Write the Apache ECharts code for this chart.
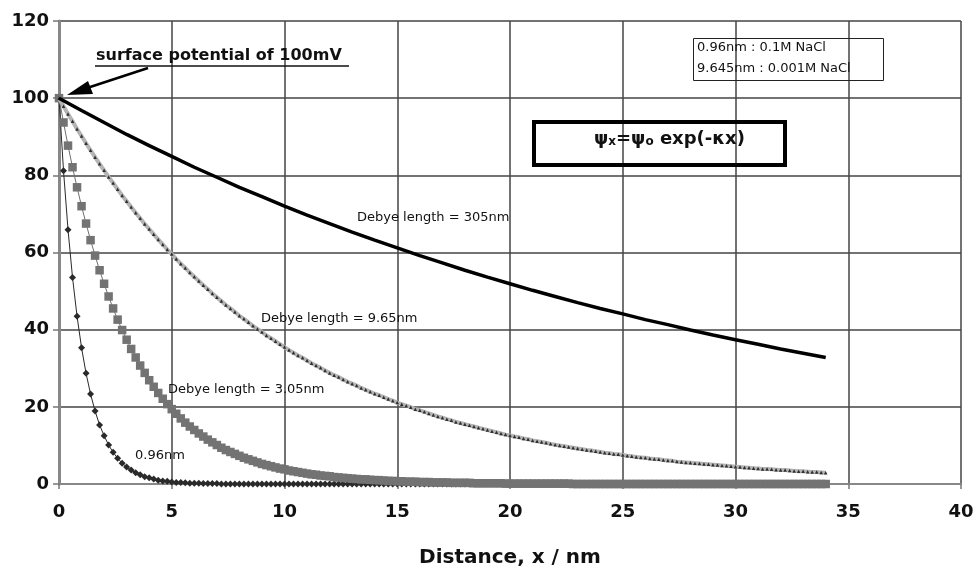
<!DOCTYPE html>
<html>
<head>
<meta charset="utf-8">
<title>Debye length potential decay</title>
<script src="https://cdn.jsdelivr.net/npm/echarts@6/dist/echarts.min.js"></script>
<style>
  html, body { margin: 0; padding: 0; background: #fff; }
  #chart { width: 979px; height: 573px; }
</style>
</head>
<body>
<div id="chart"></div>
<script>
// Distance from the surface (nm), sampled every 0.2 nm
var distance = [
  0, 0.2, 0.4, 0.6, 0.8,
  1, 1.2, 1.4, 1.6, 1.8,
  2, 2.2, 2.4, 2.6, 2.8,
  3, 3.2, 3.4, 3.6, 3.8,
  4, 4.2, 4.4, 4.6, 4.8,
  5, 5.2, 5.4, 5.6, 5.8,
  6, 6.2, 6.4, 6.6, 6.8,
  7, 7.2, 7.4, 7.6, 7.8,
  8, 8.2, 8.4, 8.6, 8.8,
  9, 9.2, 9.4, 9.6, 9.8,
  10, 10.2, 10.4, 10.6, 10.8,
  11, 11.2, 11.4, 11.6, 11.8,
  12, 12.2, 12.4, 12.6, 12.8,
  13, 13.2, 13.4, 13.6, 13.8,
  14, 14.2, 14.4, 14.6, 14.8,
  15, 15.2, 15.4, 15.6, 15.8,
  16, 16.2, 16.4, 16.6, 16.8,
  17, 17.2, 17.4, 17.6, 17.8,
  18, 18.2, 18.4, 18.6, 18.8,
  19, 19.2, 19.4, 19.6, 19.8,
  20, 20.2, 20.4, 20.6, 20.8,
  21, 21.2, 21.4, 21.6, 21.8,
  22, 22.2, 22.4, 22.6, 22.8,
  23, 23.2, 23.4, 23.6, 23.8,
  24, 24.2, 24.4, 24.6, 24.8,
  25, 25.2, 25.4, 25.6, 25.8,
  26, 26.2, 26.4, 26.6, 26.8,
  27, 27.2, 27.4, 27.6, 27.8,
  28, 28.2, 28.4, 28.6, 28.8,
  29, 29.2, 29.4, 29.6, 29.8,
  30, 30.2, 30.4, 30.6, 30.8,
  31, 31.2, 31.4, 31.6, 31.8,
  32, 32.2, 32.4, 32.6, 32.8,
  33, 33.2, 33.4, 33.6, 33.8,
  34
];

// Potential (mV) for a Debye length of 0.96 nm (0.1 M NaCl)
var potential096 = [
  100, 81.2, 65.9, 53.5, 43.5,
  35.3, 28.7, 23.3, 18.9, 15.3,
  12.5, 10.1, 8.2, 6.7, 5.4,
  4.4, 3.6, 2.9, 2.4, 1.9,
  1.6, 1.3, 1.0, 0.8, 0.7,
  0.5, 0.4, 0.4, 0.3, 0.2,
  0.2, 0.2, 0.1, 0.1, 0.1,
  0.1, 0, 0, 0, 0,
  0, 0, 0, 0, 0,
  0, 0, 0, 0, 0,
  0, 0, 0, 0, 0,
  0, 0, 0, 0, 0,
  0, 0, 0, 0, 0,
  0, 0, 0, 0, 0,
  0, 0, 0, 0, 0,
  0, 0, 0, 0, 0,
  0, 0, 0, 0, 0,
  0, 0, 0, 0, 0,
  0, 0, 0, 0, 0,
  0, 0, 0, 0, 0,
  0, 0, 0, 0, 0,
  0, 0, 0, 0, 0,
  0, 0, 0, 0, 0,
  0, 0, 0, 0, 0,
  0, 0, 0, 0, 0,
  0, 0, 0, 0, 0,
  0, 0, 0, 0, 0,
  0, 0, 0, 0, 0,
  0, 0, 0, 0, 0,
  0, 0, 0, 0, 0,
  0, 0, 0, 0, 0,
  0, 0, 0, 0, 0,
  0, 0, 0, 0, 0,
  0, 0, 0, 0, 0,
  0
];

// Potential (mV) for a Debye length of 3.05 nm
var potential305 = [
  100, 93.7, 87.7, 82.1, 76.9,
  72.0, 67.5, 63.2, 59.2, 55.4,
  51.9, 48.6, 45.5, 42.6, 39.9,
  37.4, 35.0, 32.8, 30.7, 28.8,
  26.9, 25.2, 23.6, 22.1, 20.7,
  19.4, 18.2, 17.0, 15.9, 14.9,
  14.0, 13.1, 12.3, 11.5, 10.8,
  10.1, 9.4, 8.8, 8.3, 7.8,
  7.3, 6.8, 6.4, 6.0, 5.6,
  5.2, 4.9, 4.6, 4.3, 4.0,
  3.8, 3.5, 3.3, 3.1, 2.9,
  2.7, 2.5, 2.4, 2.2, 2.1,
  2.0, 1.8, 1.7, 1.6, 1.5,
  1.4, 1.3, 1.2, 1.2, 1.1,
  1.0, 1.0, 0.9, 0.8, 0.8,
  0.7, 0.7, 0.6, 0.6, 0.6,
  0.5, 0.5, 0.5, 0.4, 0.4,
  0.4, 0.4, 0.3, 0.3, 0.3,
  0.3, 0.3, 0.2, 0.2, 0.2,
  0.2, 0.2, 0.2, 0.2, 0.1,
  0.1, 0.1, 0.1, 0.1, 0.1,
  0.1, 0.1, 0.1, 0.1, 0.1,
  0.1, 0.1, 0.1, 0.1, 0,
  0, 0, 0, 0, 0,
  0, 0, 0, 0, 0,
  0, 0, 0, 0, 0,
  0, 0, 0, 0, 0,
  0, 0, 0, 0, 0,
  0, 0, 0, 0, 0,
  0, 0, 0, 0, 0,
  0, 0, 0, 0, 0,
  0, 0, 0, 0, 0,
  0, 0, 0, 0, 0,
  0, 0, 0, 0, 0,
  0
];

// Potential (mV) for a Debye length of 9.65 nm (0.001 M NaCl)
var potential965 = [
  100, 97.9, 95.9, 94.0, 92.0,
  90.2, 88.3, 86.5, 84.7, 83.0,
  81.3, 79.6, 78.0, 76.4, 74.8,
  73.3, 71.8, 70.3, 68.9, 67.4,
  66.1, 64.7, 63.4, 62.1, 60.8,
  59.6, 58.3, 57.1, 56.0, 54.8,
  53.7, 52.6, 51.5, 50.5, 49.4,
  48.4, 47.4, 46.4, 45.5, 44.6,
  43.6, 42.8, 41.9, 41.0, 40.2,
  39.4, 38.5, 37.8, 37.0, 36.2,
  35.5, 34.7, 34.0, 33.3, 32.7,
  32.0, 31.3, 30.7, 30.1, 29.4,
  28.8, 28.2, 27.7, 27.1, 26.5,
  26.0, 25.5, 24.9, 24.4, 23.9,
  23.4, 23.0, 22.5, 22.0, 21.6,
  21.1, 20.7, 20.3, 19.9, 19.4,
  19.1, 18.7, 18.3, 17.9, 17.5,
  17.2, 16.8, 16.5, 16.1, 15.8,
  15.5, 15.2, 14.9, 14.6, 14.3,
  14.0, 13.7, 13.4, 13.1, 12.8,
  12.6, 12.3, 12.1, 11.8, 11.6,
  11.3, 11.1, 10.9, 10.7, 10.4,
  10.2, 10.0, 9.8, 9.6, 9.4,
  9.2, 9.0, 8.8, 8.7, 8.5,
  8.3, 8.1, 8.0, 7.8, 7.7,
  7.5, 7.3, 7.2, 7.0, 6.9,
  6.8, 6.6, 6.5, 6.4, 6.2,
  6.1, 6.0, 5.8, 5.7, 5.6,
  5.5, 5.4, 5.3, 5.2, 5.1,
  5.0, 4.9, 4.8, 4.7, 4.6,
  4.5, 4.4, 4.3, 4.2, 4.1,
  4.0, 3.9, 3.9, 3.8, 3.7,
  3.6, 3.6, 3.5, 3.4, 3.3,
  3.3, 3.2, 3.1, 3.1, 3.0,
  2.9
];

// Long Debye length curve, sampled every 1 nm
var distanceCoarse = [
  0, 1, 2, 3, 4, 5, 6, 7, 8, 9, 10, 11, 12, 13, 14, 15, 16, 17,
  18, 19, 20, 21, 22, 23, 24, 25, 26, 27, 28, 29, 30, 31, 32, 33, 34
];
var potentialLong = [
  100, 96.8, 93.7, 90.6, 87.7, 84.9, 82.1, 79.5, 76.9, 74.5, 72.0, 69.7,
  67.5, 65.3, 63.2, 61.2, 59.2, 57.3, 55.4, 53.6, 51.9, 50.2, 48.6, 47.0,
  45.5, 44.1, 42.6, 41.3, 39.9, 38.6, 37.4, 36.2, 35.0, 33.9, 32.8
];

// Axis ranges
var xMin = 0, xMax = 40, xStep = 5;
var yMin = 0, yMax = 120, yStep = 20;

// Text content
var xAxisTitle = 'Distance, x / nm';
var labelLong = 'Debye length = 305nm';
var label965 = 'Debye length = 9.65nm';
var label305 = 'Debye length = 3.05nm';
var label096 = '0.96nm';
var surfaceNote = 'surface potential of 100mV';
var saltNote = ['0.96nm : 0.1M NaCl', '9.645nm : 0.001M NaCl'];

function pairs(xs, ys) {
  var out = [];
  for (var i = 0; i < ys.length; i++) out.push([xs[i], ys[i]]);
  return out;
}

var FONT = 'DejaVu Sans';
var chart = echarts.init(document.getElementById('chart'), null, { renderer: 'canvas' });

var option = {
  animation: false,
  backgroundColor: '#ffffff',
  grid: { left: 59, right: 18, top: 21, bottom: 83, containLabel: false },
  xAxis: {
    type: 'value', min: xMin, max: xMax, interval: xStep,
    name: xAxisTitle, nameLocation: 'middle', nameGap: 64,
    nameTextStyle: { fontFamily: FONT, fontWeight: 'bold', fontSize: 20, color: '#111' },
    axisLine: { show: true, onZero: false, lineStyle: { color: '#888', width: 2 } },
    axisTick: { show: true, length: 5, lineStyle: { color: '#777', width: 1.5 } },
    axisLabel: { margin: 19, fontFamily: FONT, fontWeight: 'bold', fontSize: 18, color: '#111' },
    splitLine: { show: true, lineStyle: { color: '#444', width: 1.5 } }
  },
  yAxis: [{
    type: 'value', min: yMin, max: yMax, interval: yStep,
    axisLine: { show: true, onZero: false, lineStyle: { color: '#888', width: 2 } },
    axisTick: { show: true, length: 6, lineStyle: { color: '#777', width: 1.5 } },
    axisLabel: { margin: 10, fontFamily: FONT, fontWeight: 'bold', fontSize: 18, color: '#111' },
    splitLine: { show: true, lineStyle: { color: '#444', width: 1.5 } }
  }, {
    type: 'value', min: yMin, max: yMax, interval: yStep, position: 'right',
    axisLine: { show: true, lineStyle: { color: '#888', width: 3 } },
    axisTick: { show: false }, axisLabel: { show: false }, splitLine: { show: false }
  }],
  series: [
    {
      name: label096, type: 'line', data: pairs(distance, potential096),
      symbol: 'diamond', symbolSize: 7, showSymbol: true,
      lineStyle: { color: '#2a2a2a', width: 1 },
      itemStyle: { color: '#2a2a2a' }, z: 2
    },
    {
      name: label305, type: 'line', data: pairs(distance, potential305),
      symbol: 'rect', symbolSize: 8.5, showSymbol: true,
      lineStyle: { color: '#6f6f6f', width: 1 },
      itemStyle: { color: '#737373' }, z: 3
    },
    {
      name: label965, type: 'line', data: pairs(distance, potential965),
      symbol: 'triangle', symbolSize: 3.5, showSymbol: true,
      lineStyle: { color: '#b4b4b4', width: 4 },
      itemStyle: { color: '#2e2e2e' }, z: 4
    },
    {
      name: labelLong, type: 'line', data: pairs(distanceCoarse, potentialLong),
      symbol: 'none',
      lineStyle: { color: '#000', width: 3.5 }, z: 5
    }
  ],
  graphic: [
    // curve labels
    { type: 'text', left: 357, top: 211, z: 10, style: { text: labelLong, font: '13px "' + FONT + '"', fill: '#111' } },
    { type: 'text', left: 261, top: 312, z: 10, style: { text: label965, font: '13px "' + FONT + '"', fill: '#111' } },
    { type: 'text', left: 168, top: 383, z: 10, style: { text: label305, font: '13px "' + FONT + '"', fill: '#111' } },
    { type: 'text', left: 135, top: 449, z: 10, style: { text: label096, font: '13px "' + FONT + '"', fill: '#111' } },
    // surface potential callout
    { type: 'text', left: 96, top: 48, z: 10, style: { text: surfaceNote, font: 'bold 16px "' + FONT + '"', fill: '#111' } },
    { type: 'line', z: 10, shape: { x1: 95, y1: 66, x2: 349, y2: 66 }, style: { stroke: '#111', lineWidth: 1.5 } },
    { type: 'line', z: 10, shape: { x1: 148, y1: 68, x2: 84, y2: 89 }, style: { stroke: '#000', lineWidth: 2.5 } },
    { type: 'polygon', z: 10, shape: { points: [[67, 95], [88, 81], [93, 94]] }, style: { fill: '#000' } },
    // salt concentration note
    { type: 'rect', z: 10, shape: { x: 693.5, y: 38.5, width: 190, height: 42 }, style: { fill: 'none', stroke: '#222', lineWidth: 1 } },
    { type: 'text', left: 697, top: 41, z: 10, style: { text: saltNote[0], font: '13px "' + FONT + '"', fill: '#111' } },
    { type: 'text', left: 697, top: 62, z: 10, style: { text: saltNote[1], font: '13px "' + FONT + '"', fill: '#111' } },
    // Debye-Hückel expression box
    { type: 'rect', z: 10, shape: { x: 534, y: 122, width: 251, height: 43 }, style: { fill: 'none', stroke: '#000', lineWidth: 4 } },
    {
      type: 'text', z: 10, left: 594, top: 130,
      style: {
        text: '{p|ψ}{s|x}{p|=ψ}{s|o}{p| exp(-κx)}',
        rich: {
          p: { fontFamily: FONT, fontWeight: 'bold', fontSize: 18, fill: '#111', verticalAlign: 'bottom', lineHeight: 23 },
          s: { fontFamily: FONT, fontWeight: 'bold', fontSize: 12, fill: '#111', verticalAlign: 'bottom', lineHeight: 23, padding: [4, 0, 0, 0] }
        }
      }
    }
  ]
};

chart.setOption(option);
</script>
</body>
</html>
